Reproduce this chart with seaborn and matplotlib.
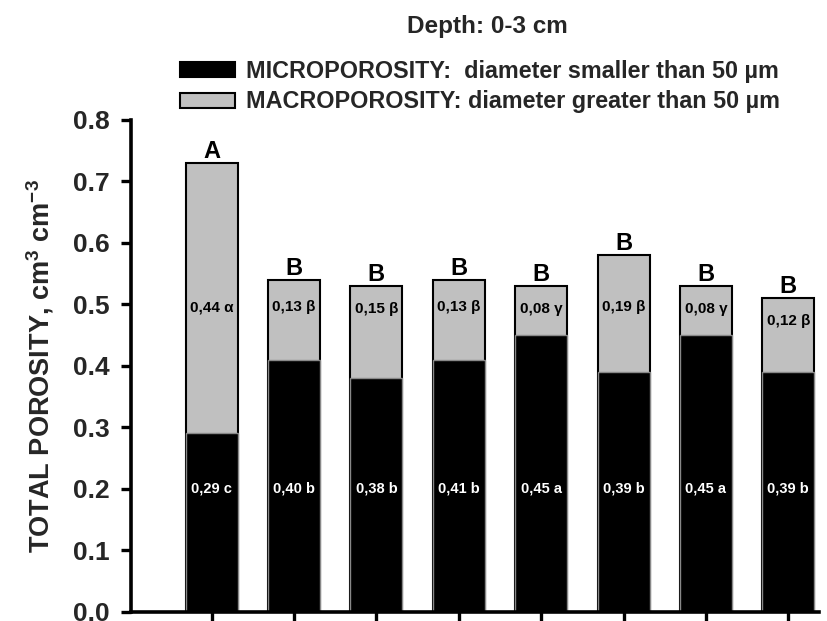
import matplotlib
matplotlib.use("Agg")
import matplotlib.pyplot as plt
import seaborn as sns
import pandas as pd
from matplotlib.patches import Patch

# ---- data ----
categories = ["1", "2", "3", "4", "5", "6", "7", "8"]
micro = [0.29, 0.41, 0.38, 0.41, 0.45, 0.39, 0.45, 0.39]
macro = [0.44, 0.13, 0.15, 0.13, 0.08, 0.19, 0.08, 0.12]
micro_labels = ["0,29 c", "0,40 b", "0,38 b", "0,41 b", "0,45 a", "0,39 b", "0,45 a", "0,39 b"]
macro_labels = ["0,44 \u03b1", "0,13 \u03b2", "0,15 \u03b2", "0,13 \u03b2", "0,08 \u03b3", "0,19 \u03b2", "0,08 \u03b3", "0,12 \u03b2"]
total_letters = ["A", "B", "B", "B", "B", "B", "B", "B"]
y_ticks = [0.0, 0.1, 0.2, 0.3, 0.4, 0.5, 0.6, 0.7, 0.8]

sns.set_theme(style="ticks")
plt.rcParams["font.family"] = ["Liberation Sans", "DejaVu Sans"]
plt.rcParams["font.weight"] = "bold"
plt.rcParams["mathtext.fontset"] = "custom"
plt.rcParams["mathtext.rm"] = "Liberation Sans:bold"
plt.rcParams["mathtext.bf"] = "Liberation Sans:bold"
plt.rcParams["mathtext.it"] = "Liberation Sans:bold"
plt.rcParams["mathtext.default"] = "rm"

df = pd.DataFrame({"cat": categories, "micro": micro, "macro": macro})
df["total"] = df["micro"] + df["macro"]

fig = plt.figure(figsize=(8.27, 6.21), dpi=100)
ax = fig.add_axes([0.158, 0.015, 0.8327, 0.7918])

GRAY = "#c0c0c0"
sns.barplot(data=df, x="cat", y="total", color=GRAY, edgecolor="black",
            linewidth=1.5, width=0.63, saturation=1, ax=ax, errorbar=None)
sns.barplot(data=df, x="cat", y="micro", color="black", edgecolor="#888888",
            linewidth=1.0, width=0.63, saturation=1, ax=ax, errorbar=None)

ax.set_xlim(-0.983, 7.376)
ax.set_ylim(0, 0.8)
ax.set_yticks(y_ticks)
ax.set_yticklabels([f"{v:.1f}" for v in y_ticks], fontsize=19, fontweight="bold")
ax.set_xticks(range(len(categories)))
ax.set_xticklabels([])
ax.set_xlabel("")
ax.set_ylabel(r"TOTAL POROSITY, cm$^{3}$ cm$^{-3}$", fontsize=19.5,
              fontweight="bold", va="center")
ax.yaxis.set_label_coords(-0.132, 0.5)

for s in ["top", "right"]:
    ax.spines[s].set_visible(False)
for s in ["left", "bottom"]:
    ax.spines[s].set_linewidth(2.6)
    ax.spines[s].set_color("black")
ax.tick_params(axis="both", direction="out", length=7, width=2.4, color="black")
ax.tick_params(axis="y", pad=8)

# annotations
for i in range(len(categories)):
    tot = micro[i] + macro[i]
    ax.text(i, tot + 0.008, total_letters[i], ha="center", va="baseline",
            fontsize=17, fontweight="bold", color="black")
    ax.text(i, min(0.495, tot - 0.037), macro_labels[i], ha="center", va="center",
            fontsize=11, fontweight="bold", color="black")
    ax.text(i, 0.2, micro_labels[i], ha="center", va="center",
            fontsize=10.5, fontweight="bold", color="white")

# title
fig.text(487.5 / 827, 1 - 27 / 621, "Depth: 0-3 cm", ha="center", va="center",
         fontsize=17.5, fontweight="bold")

# legend
handles = [Patch(facecolor="black", edgecolor="black", linewidth=1.5),
           Patch(facecolor=GRAY, edgecolor="black", linewidth=1.5)]
labels = ["MICROPOROSITY:  diameter smaller than 50 \u00b5m",
          "MACROPOROSITY: diameter greater than 50 \u00b5m"]
leg = ax.legend(handles, labels, loc="upper left",
                bbox_to_anchor=(180 / 827, 1 - 60 / 621),
                bbox_transform=fig.transFigure, frameon=False,
                prop={"size": 16.8, "weight": "bold"},
                handlelength=2.35, handleheight=0.6, handletextpad=0.5,
                labelspacing=0.32, borderpad=0, borderaxespad=0)

fig.savefig("out.png", dpi=100)
